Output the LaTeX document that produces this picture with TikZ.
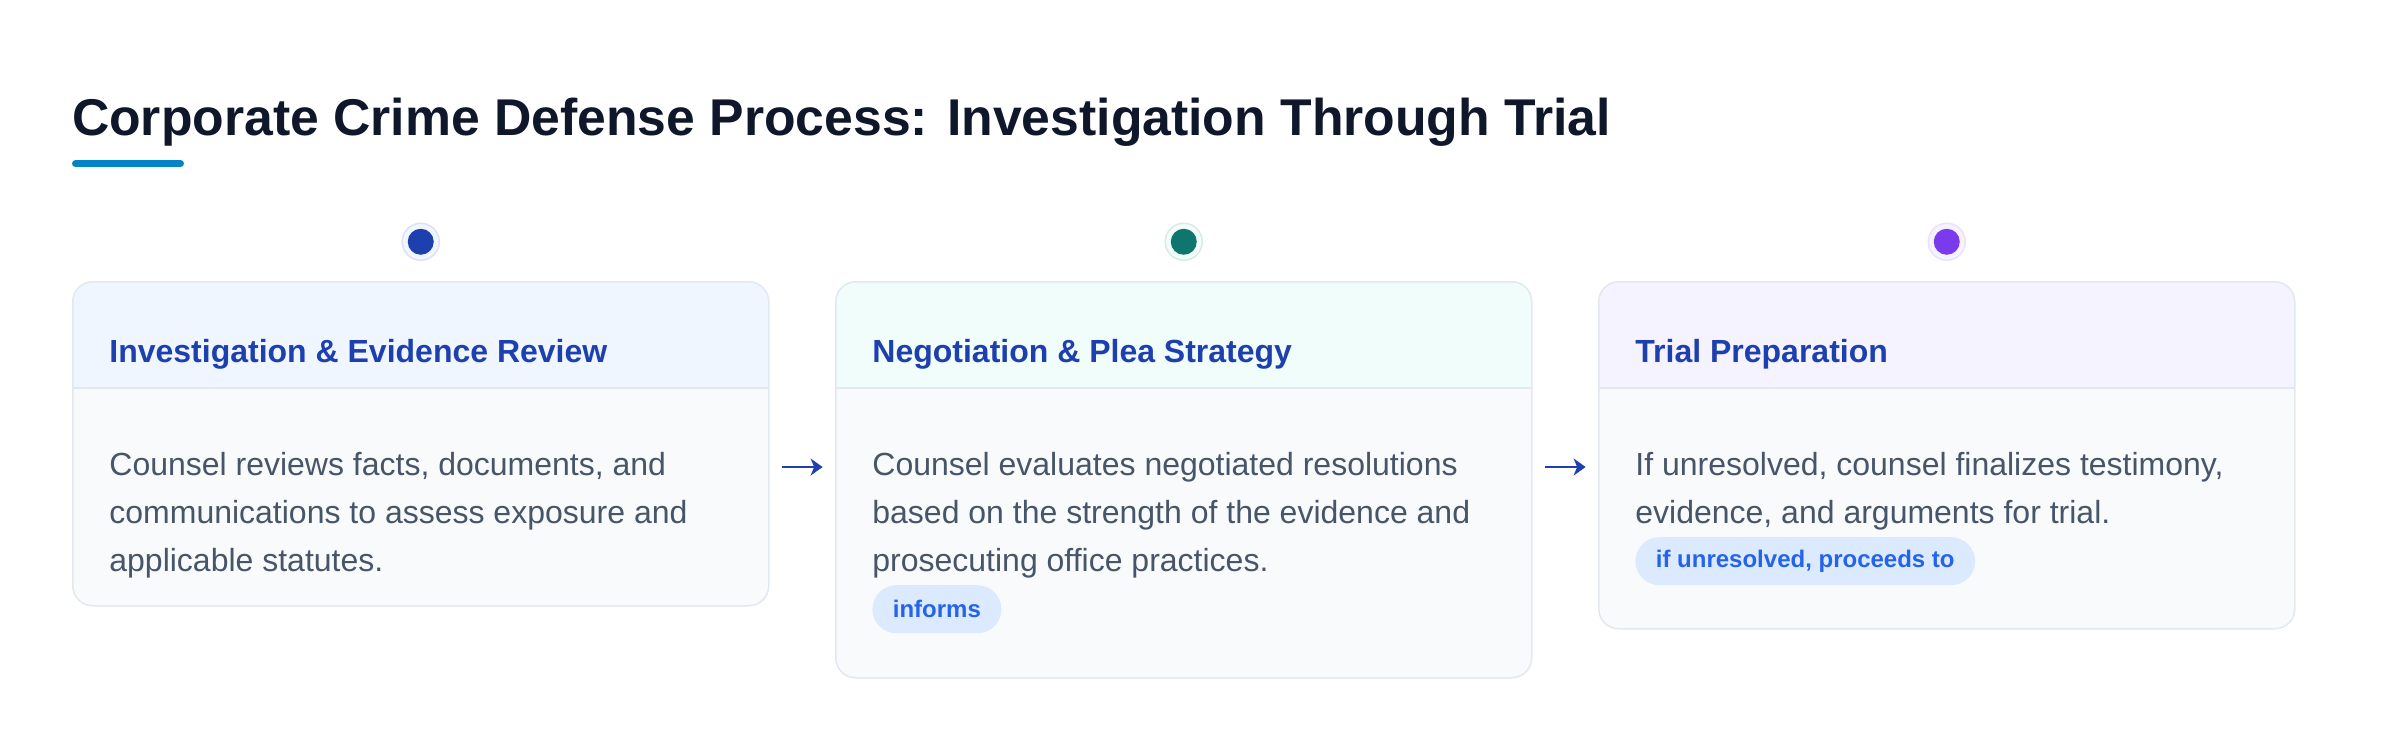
\documentclass[tikz,border=0pt]{standalone}
\usepackage{fontspec}
\setmainfont{Liberation Sans}
\usetikzlibrary{positioning,arrows.meta}

\definecolor{titleink}{HTML}{0F172A}
\definecolor{accentbar}{HTML}{0284C7}
\definecolor{headink}{HTML}{1E40AF}
\definecolor{bodyink}{HTML}{475569}
\definecolor{cardline}{HTML}{E2E8F0}
\definecolor{bodyfill}{HTML}{F8FAFC}
\definecolor{hdrblue}{HTML}{EFF6FF}
\definecolor{hdrteal}{HTML}{F0FDFA}
\definecolor{hdrviolet}{HTML}{F5F3FF}
\definecolor{dotblue}{HTML}{1E40AF}
\definecolor{dotteal}{HTML}{0F766E}
\definecolor{dotviolet}{HTML}{7C3AED}
\definecolor{badgefill}{HTML}{DBEAFE}
\definecolor{badgeink}{HTML}{2563EB}

\begin{document}
\begin{tikzpicture}[x=1pt, y=-1pt,
  card/.style={draw=cardline, line width=.75pt, fill=bodyfill, rounded corners=10pt, anchor=north west,
    minimum width=348pt, inner sep=0pt,
    path picture={\fill[#1, sharp corners] (path picture bounding box.north west) rectangle ([yshift=-53pt]path picture bounding box.north east);
      \draw[cardline, sharp corners, line width=1pt] ([yshift=-53pt]path picture bounding box.north west) -- ([yshift=-53pt]path picture bounding box.north east);}},
  halo/.style 2 args={circle, minimum size=18.5pt, inner sep=0pt, fill=#2, draw=#1!15!white, line width=.75pt,
    path picture={\fill[#1] (path picture bounding box.center) circle[radius=6.5pt];}},
  hdr/.style={anchor=base west, inner sep=0pt, text=headink, font=\fontsize{16}{19}\selectfont\bfseries},
  body/.style={anchor=north west, inner sep=0pt, text width=312pt, align=flush left, text=bodyink,
    font=\fontsize{16}{24}\selectfont, execute at begin node=\strut, execute at end node=\strut},
  badge/.style={anchor=north west, fill=badgefill, text=badgeink, rounded corners=12pt, minimum height=24pt,
    inner xsep=10.25pt, inner ysep=0pt, font=\fontsize{12}{14}\selectfont\bfseries},
  flow/.style={draw=headink, line width=1.1pt, -{Stealth[length=6pt,width=8.5pt,inset=1.8pt]}, shorten <=6.3pt, shorten >=6.2pt}]

\fill[white] (0,0) rectangle (1200,375);
\useasboundingbox (0,0) rectangle (1200,375);

\node[anchor=base west, inner sep=0pt, text=titleink, font=\fontsize{25.85}{31}\selectfont\bfseries] (title) at (35.8,67.5)
  {Corporate Crime Defense Process: Investigation Through Trial};
\draw[accentbar, line width=3.5pt, line cap=round] (37.75,81.75) -- (90.25,81.75);

\node[card=hdrblue, minimum height=162pt] (inv) at (36,140.5) {};
\node[card=hdrteal, minimum height=198pt] (neg) at (417.5,140.5) {};
\node[card=hdrviolet, minimum height=173.5pt] (trial) at (799,140.5) {};

\node[halo={dotblue}{hdrblue}, above=10pt of inv] (invDot) {};
\node[halo={dotteal}{hdrteal}, above=10pt of neg] (negDot) {};
\node[halo={dotviolet}{hdrviolet}, above=10pt of trial] (trialDot) {};

\node[hdr] (invHead) at ([xshift=18.5pt,yshift=-40.5pt]inv.north west) {Investigation \& Evidence Review};
\node[hdr] (negHead) at ([xshift=18.5pt,yshift=-40.5pt]neg.north west) {Negotiation \& Plea Strategy};
\node[hdr] (trialHead) at ([xshift=18.5pt,yshift=-40.5pt]trial.north west) {Trial Preparation};

\node[body] (invBody) at ([xshift=18.5pt,yshift=-80.2pt]inv.north west)
  {Counsel reviews facts, documents, and\\communications to assess exposure and\\applicable statutes.};
\node[body] (negBody) at ([xshift=18.5pt,yshift=-80.2pt]neg.north west)
  {Counsel evaluates negotiated resolutions\\based on the strength of the evidence and\\prosecuting office practices.};
\node[body] (trialBody) at ([xshift=18.5pt,yshift=-80.2pt]trial.north west)
  {If unresolved, counsel finalizes testimony,\\evidence, and arguments for trial.};

\node[badge] (negTag) at ([yshift=.7pt]negBody.south west) {informs};
\node[badge] (trialTag) at ([yshift=.7pt]trialBody.south west) {if unresolved, proceeds to};

\coordinate (row) at (0,233.5);
\draw[flow] (inv.east |- row) -- (neg.west |- row);
\draw[flow] (neg.east |- row) -- (trial.west |- row);
\end{tikzpicture}
\end{document}
